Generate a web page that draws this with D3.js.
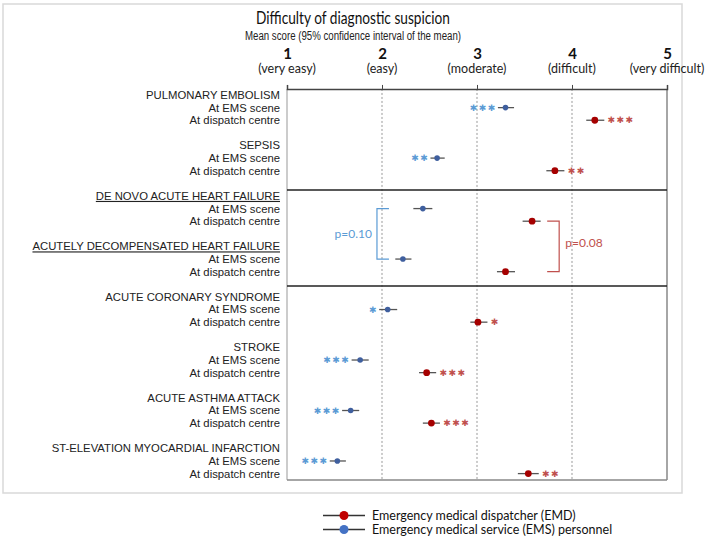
<!DOCTYPE html>
<html><head><meta charset="utf-8">
<script src="https://cdn.jsdelivr.net/npm/d3@7"></script>
<style>body{margin:0;background:#fff}svg{display:block}</style>
</head><body>
<script>
const groups = ["PULMONARY EMBOLISM","SEPSIS","DE NOVO ACUTE HEART FAILURE","ACUTELY DECOMPENSATED HEART FAILURE","ACUTE CORONARY SYNDROME","STROKE","ACUTE ASTHMA ATTACK","ST-ELEVATION MYOCARDIAL INFARCTION"];
const underlinedGroups = [2,3];
const subRows = ["At EMS scene","At dispatch centre"];
const emsMean = [3.30,2.58,2.43,2.22,2.06,1.77,1.67,1.53];
const emsLow  = [3.22,2.51,2.33,2.14,1.97,1.68,1.58,1.45];
const emsHigh = [3.39,2.66,2.53,2.31,2.16,1.86,1.76,1.62];
const dispMean = [4.24,3.82,3.58,3.30,3.01,2.47,2.52,3.54];
const dispLow  = [4.15,3.73,3.48,3.21,2.93,2.39,2.43,3.43];
const dispHigh = [4.34,3.92,3.67,3.40,3.11,2.57,2.61,3.65];
const emsSig  = ["***","**","","","*","***","***","***"];
const dispSig = ["***","**","","","*","***","***","**"];
const tickValues = [1,2,3,4,5];
const tickLabels = ["(very easy)","(easy)","(moderate)","(difficult)","(very difficult)"];
const pEms = "p=0.10", pDisp = "p=0.08";
const legendLabels = ["Emergency medical dispatcher (EMD)","Emergency medical service (EMS) personnel"];

(function(){
const W=709,H=543;
const svg=d3.select("body").append("svg").attr("width",W).attr("height",H);
const x=d3.scaleLinear().domain([1,5]).range([287,667]);
const y=d3.scaleLinear().domain([0,1]).range([95,107.62]);
const red="#a50000", blue="#3f5f9e", redL="#c0504d", blueL="#5b9bd5";
const labelFont="'Liberation Sans', Arial, sans-serif";
const calFont="Lato, 'Open Sans', sans-serif";

svg.append("rect").attr("x",3).attr("y",4).attr("width",679).attr("height",489)
  .attr("fill","none").attr("stroke","#d9d9d9").attr("stroke-width",1.5);

svg.append("text").attr("x",353).attr("y",24).attr("text-anchor","middle")
  .style("font-family",calFont).style("font-size","17px").attr("fill","#111")
  .attr("textLength",194).attr("lengthAdjust","spacingAndGlyphs")
  .text("Difficulty of diagnostic suspicion");
svg.append("text").attr("x",353).attr("y",40).attr("text-anchor","middle")
  .style("font-family",labelFont).style("font-size","12px").attr("fill","#222")
  .attr("textLength",216).attr("lengthAdjust","spacingAndGlyphs")
  .text("Mean score (95% confidence interval of the mean)");

const yTop=y(-0.48), yBot=y(30.5);
svg.append("g").selectAll("line").data(tickValues.slice(1,-1)).join("line")
  .attr("x1",d=>x(d)).attr("x2",d=>x(d)).attr("y1",yTop).attr("y2",yBot)
  .attr("stroke","#999").attr("stroke-dasharray","2,2");
svg.append("line").attr("x1",x(1)).attr("x2",x(1)).attr("y1",yTop).attr("y2",yBot).attr("stroke","#999").attr("stroke-width",1);
svg.append("line").attr("x1",x(5)).attr("x2",x(5)).attr("y1",yTop).attr("y2",yBot).attr("stroke","#888").attr("stroke-width",1.5);
svg.append("line").attr("x1",x(1)).attr("x2",x(5)).attr("y1",yBot).attr("y2",yBot).attr("stroke","#888").attr("stroke-width",1.5);
[7.53,15.13].forEach(r=>svg.append("line").attr("x1",x(1)).attr("x2",x(5)).attr("y1",y(r)).attr("y2",y(r)).attr("stroke","#222").attr("stroke-width",1.5));

const ax=svg.append("g").attr("transform",`translate(0,${yTop})`)
  .call(d3.axisTop(x).tickValues(tickValues).tickSize(4).tickPadding(26).tickFormat(d3.format("d")));
ax.select(".domain").attr("stroke","#444").attr("stroke-width",1.5);
ax.selectAll(".tick line").attr("stroke","#444");
ax.selectAll(".tick text").style("font-family",calFont).style("font-size","15px").style("font-weight","bold").attr("fill","#111");
svg.append("g").selectAll("text").data(tickValues).join("text")
  .attr("x",d=>x(d)).attr("y",73).attr("text-anchor","middle")
  .style("font-family",calFont).style("font-size","12.5px").attr("fill","#222")
  .text((d,i)=>tickLabels[i]);

const lab=svg.append("g").style("font-family",labelFont).style("font-size","11.3px").attr("fill","#222").attr("text-anchor","end");
groups.forEach((g,i)=>{
  const t=lab.append("text").attr("x",280).attr("y",y(i*4)).attr("dy","0.35em").text(g);
  if(underlinedGroups.includes(i)) t.attr("text-decoration","underline");
  subRows.forEach((s,k)=>lab.append("text").attr("x",280).attr("y",y(i*4+k+1)).attr("dy","0.35em").text(s));
});

function bracket(r1,r2,xv,dir,color){
  const xx=x(xv);
  svg.append("path").attr("d",`M${xx+dir*12},${y(r1)}H${xx}V${y(r2)}H${xx+dir*12}`)
    .attr("fill","none").attr("stroke",color).attr("stroke-width",1.2);
}
bracket(9,13,1.947,1,blueL);
bracket(10,14,3.865,-1,redL);
svg.append("text").attr("x",x(1.895)).attr("y",y(11)).attr("dy","0.35em").attr("text-anchor","end")
  .style("font-family",calFont).style("font-size","12px").attr("fill",blueL).text(pEms);
svg.append("text").attr("x",x(3.93)).attr("y",y(11.7)).attr("dy","0.35em")
  .style("font-family",calFont).style("font-size","12px").attr("fill",redL).text(pDisp);

function series(mean,lo,hi,sig,k,col,starCol,rad,side){
  const g=svg.append("g");
  mean.forEach((m,i)=>{
    const yy=y(i*4+k);
    g.append("line").attr("x1",x(lo[i])).attr("x2",x(hi[i])).attr("y1",yy).attr("y2",yy).attr("stroke","#555").attr("stroke-width",1.3);
    g.append("circle").attr("cx",x(m)).attr("cy",yy).attr("r",rad).attr("fill",col);
    const n=sig[i].length;
    for(let j=0;j<n;j++){
      const cx= side<0 ? x(lo[i])-6.5-j*9 : x(hi[i])+7+j*9;
      g.append("text").attr("x",cx).attr("y",yy).attr("dominant-baseline","central").attr("text-anchor","middle")
        .style("font-family","'DejaVu Sans', sans-serif").style("font-size","9px").attr("fill",starCol).text("\u2731");
    }
  });
}
series(emsMean,emsLow,emsHigh,emsSig,1,blue,blueL,2.8,-1);
series(dispMean,dispLow,dispHigh,dispSig,2,red,redL,3.4,1);

const leg=svg.append("g");
[[red,"#c00000",515.5],[blue,"#4472c4",529.5]].forEach((c,i)=>{
  leg.append("line").attr("x1",323).attr("x2",365).attr("y1",c[2]).attr("y2",c[2]).attr("stroke","#333").attr("stroke-width",1.3);
  leg.append("circle").attr("cx",344).attr("cy",c[2]).attr("r",4.5).attr("fill",c[1]);
  leg.append("text").attr("x",372).attr("y",c[2]).attr("dy","0.35em").style("font-family",calFont).style("font-size","12.5px").attr("fill","#111").text(legendLabels[i]);
});
})();
</script>
</body></html>
